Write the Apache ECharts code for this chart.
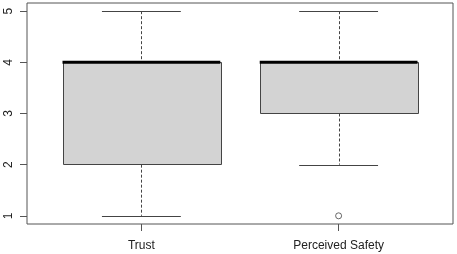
<!DOCTYPE html>
<html><head><meta charset="utf-8">
<script src="https://cdn.jsdelivr.net/npm/echarts@6/dist/echarts.min.js"></script>
<style>html,body{margin:0;padding:0;background:#fff}#c{width:457px;height:254px}</style>
</head><body><div id="c"></div>
<script>
var categories = ["Trust", "Perceived Safety"];
var positions = [1, 2];
var whiskerLow = [1, 2];
var q1 = [2, 3];
var median = [4, 4];
var q3 = [4, 4];
var whiskerHigh = [5, 5];
var outliers = [[2, 1]];
var yTicks = [1, 2, 3, 4, 5];

var boxData = positions.map(function (p, i) {
  return [p, whiskerLow[i], q1[i], median[i], q3[i], whiskerHigh[i]];
});
var BOX_W = 0.8, CAP_W = 0.4;
var LINE = '#444';

var chart = echarts.init(document.getElementById('c'), null, {renderer: 'canvas'});
chart.setOption({
  animation: false,
  backgroundColor: '#fff',
  grid: {left: 27, right: 4, top: 3, bottom: 30, show: true, borderColor: '#555', borderWidth: 1, backgroundColor: 'transparent'},
  xAxis: {
    type: 'value', min: 0.42, max: 2.58,
    splitLine: {show: false},
    axisLine: {show: false},
    axisTick: {show: true, length: 7, inside: false, customValues: positions, lineStyle: {color: '#555'}},
    axisLabel: {show: true, customValues: positions, margin: 16, color: '#222', fontFamily: 'Liberation Sans, Arial, sans-serif', fontSize: 12,
      formatter: function (v) { var i = positions.indexOf(Math.round(v)); return i >= 0 ? categories[i] : ''; }}
  },
  yAxis: {
    type: 'value', min: 0.84, max: 5.16,
    splitLine: {show: false},
    axisLine: {show: false},
    axisTick: {show: true, length: 7, customValues: yTicks, lineStyle: {color: '#555'}},
    axisLabel: {show: true, customValues: yTicks, rotate: 90, margin: 12, color: '#222', fontFamily: 'Liberation Sans, Arial, sans-serif', fontSize: 12}
  },
  series: [{
    type: 'custom',
    data: boxData,
    renderItem: function (params, api) {
      var x = api.value(0);
      var lo = api.value(1), a = api.value(2), m = api.value(3), b = api.value(4), hi = api.value(5);
      var pLo = api.coord([x, lo]), pA = api.coord([x, a]), pM = api.coord([x, m]), pB = api.coord([x, b]), pHi = api.coord([x, hi]);
      var xl = api.coord([x - BOX_W / 2, m])[0], xr = api.coord([x + BOX_W / 2, m])[0];
      var cl = api.coord([x - CAP_W / 2, m])[0], cr = api.coord([x + CAP_W / 2, m])[0];
      var cx = Math.round(pM[0]) + 0.5;
      return {
        type: 'group',
        children: [
          {type: 'line', shape: {x1: cx, y1: pHi[1], x2: cx, y2: pB[1]}, style: {stroke: LINE, lineWidth: 1, lineDash: [3, 2]}},
          {type: 'line', shape: {x1: cx, y1: pA[1], x2: cx, y2: pLo[1]}, style: {stroke: LINE, lineWidth: 1, lineDash: [3, 2]}},
          {type: 'line', shape: {x1: cl, y1: Math.round(pHi[1]) + 0.5, x2: cr, y2: Math.round(pHi[1]) + 0.5}, style: {stroke: LINE, lineWidth: 1}},
          {type: 'line', shape: {x1: cl, y1: Math.round(pLo[1]) + 0.5, x2: cr, y2: Math.round(pLo[1]) + 0.5}, style: {stroke: LINE, lineWidth: 1}},
          {type: 'rect', shape: {x: Math.round(xl) + 0.5, y: Math.round(pB[1]) + 0.5, width: Math.round(xr - xl), height: Math.round(pA[1] - pB[1])}, style: {fill: '#d3d3d3', stroke: LINE, lineWidth: 1}},
          {type: 'line', shape: {x1: xl, y1: pM[1], x2: xr, y2: pM[1]}, style: {stroke: '#000', lineWidth: 3}}
        ]
      };
    }
  }, {
    type: 'scatter',
    data: outliers,
    symbol: 'circle',
    symbolSize: 6,
    z: 5,
    itemStyle: {color: '#fff', borderColor: LINE, borderWidth: 1}
  }]
});
</script></body></html>
